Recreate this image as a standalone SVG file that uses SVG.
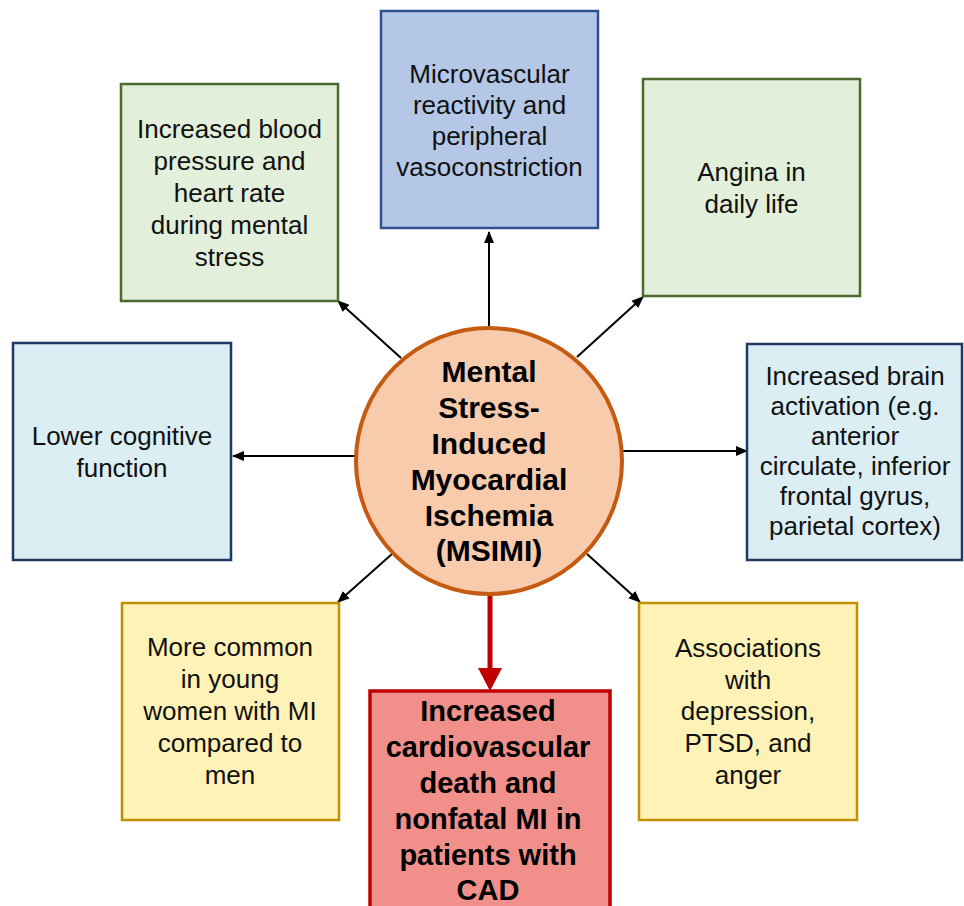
<svg xmlns="http://www.w3.org/2000/svg" width="964" height="906" viewBox="0 0 964 906">
<defs>
<style>
.t{font-family:"Liberation Sans",Arial,sans-serif;font-size:26px;fill:#111;text-anchor:middle}
.b{font-family:"Liberation Sans",Arial,sans-serif;font-weight:bold;fill:#000;text-anchor:middle}
.green{fill:#e2efda;stroke:#4a6b2d;stroke-width:2.5}
.blue{fill:#b4c7e7;stroke:#2f528f;stroke-width:2.5}
.lblue{fill:#dbeef4;stroke:#1f3864;stroke-width:2.5}
.yellow{fill:#fef2b6;stroke:#bf9000;stroke-width:2.5}
.red{fill:#f1908a;stroke:#c00000;stroke-width:3.5}
.arr{stroke:#000;stroke-width:2;fill:none;marker-end:url(#ah)}
</style>
<marker id="ah" markerUnits="userSpaceOnUse" markerWidth="12" markerHeight="11" refX="11" refY="5.5" orient="auto">
<path d="M0,0.5 L12,5.5 L0,10.5 z" fill="#000"/>
</marker>
<marker id="rah" markerUnits="userSpaceOnUse" markerWidth="24" markerHeight="24" refX="0" refY="12" orient="auto">
<path d="M0,0 L23,12 L0,24 z" fill="#c00000"/>
</marker>
</defs>
<rect width="964" height="906" fill="#fff"/>

<g id="connectors">
<line class="arr" x1="489" y1="327" x2="489" y2="232"/>
<line class="arr" x1="401" y1="358" x2="338" y2="301"/>
<line class="arr" x1="577" y1="357" x2="643" y2="297"/>
<line class="arr" x1="355" y1="456" x2="233" y2="456"/>
<line class="arr" x1="623" y1="451" x2="747" y2="451"/>
<line class="arr" x1="392" y1="554" x2="338" y2="602"/>
<line class="arr" x1="587" y1="554" x2="640" y2="602"/>
<line x1="490" y1="595" x2="490" y2="668" stroke="#c00000" stroke-width="5" marker-end="url(#rah)"/>
</g>

<g id="n-bp">
<rect class="green" x="121" y="84" width="217" height="217"/>
<text class="t"><tspan x="229.5" y="138">Increased blood</tspan><tspan x="229.5" y="170">pressure and</tspan><tspan x="229.5" y="202">heart rate</tspan><tspan x="229.5" y="234">during mental</tspan><tspan x="229.5" y="266">stress</tspan></text>
</g>

<g id="n-micro">
<rect class="blue" x="381" y="11" width="217" height="217"/>
<text class="t"><tspan x="489.5" y="83">Microvascular</tspan><tspan x="489.5" y="114">reactivity and</tspan><tspan x="489.5" y="145">peripheral</tspan><tspan x="489.5" y="176">vasoconstriction</tspan></text>
</g>

<g id="n-angina">
<rect class="green" x="643" y="79" width="217" height="217"/>
<text class="t"><tspan x="751.5" y="181">Angina in</tspan><tspan x="751.5" y="213">daily life</tspan></text>
</g>

<g id="n-cog">
<rect class="lblue" x="13" y="343" width="218" height="217"/>
<text class="t"><tspan x="122" y="445">Lower cognitive</tspan><tspan x="122" y="477">function</tspan></text>
</g>

<g id="n-brain">
<rect class="lblue" x="747" y="344" width="215" height="216"/>
<text class="t"><tspan x="855" y="385">Increased brain</tspan><tspan x="855" y="415">activation (e.g.</tspan><tspan x="855" y="445">anterior</tspan><tspan x="855" y="475">circulate, inferior</tspan><tspan x="855" y="505">frontal gyrus,</tspan><tspan x="855" y="535">parietal cortex)</tspan></text>
</g>

<g id="n-women">
<rect class="yellow" x="122" y="603" width="217" height="217"/>
<text class="t"><tspan x="230" y="656">More common</tspan><tspan x="230" y="688">in young</tspan><tspan x="230" y="720">women with MI</tspan><tspan x="230" y="752">compared to</tspan><tspan x="230" y="784">men</tspan></text>
</g>

<g id="n-assoc">
<rect class="yellow" x="639" y="603" width="218" height="217"/>
<text class="t"><tspan x="748" y="657">Associations</tspan><tspan x="748" y="689">with</tspan><tspan x="748" y="720">depression,</tspan><tspan x="748" y="752">PTSD, and</tspan><tspan x="748" y="784">anger</tspan></text>
</g>

<g id="n-outcome">
<rect class="red" x="370" y="691" width="240" height="230"/>
<text class="b" font-size="29"><tspan x="488" y="721">Increased</tspan><tspan x="488" y="757">cardiovascular</tspan><tspan x="488" y="793">death and</tspan><tspan x="488" y="829">nonfatal MI in</tspan><tspan x="488" y="865">patients with</tspan><tspan x="488" y="900">CAD</tspan></text>
</g>

<g id="n-msimi">
<circle cx="489" cy="461" r="133" fill="#f8cbad" stroke="#c55a11" stroke-width="4"/>
<text class="b" font-size="30"><tspan x="489" y="382">Mental</tspan><tspan x="489" y="418">Stress-</tspan><tspan x="489" y="454">Induced</tspan><tspan x="489" y="490">Myocardial</tspan><tspan x="489" y="526">Ischemia</tspan><tspan x="489" y="561">(MSIMI)</tspan></text>
</g>
</svg>
